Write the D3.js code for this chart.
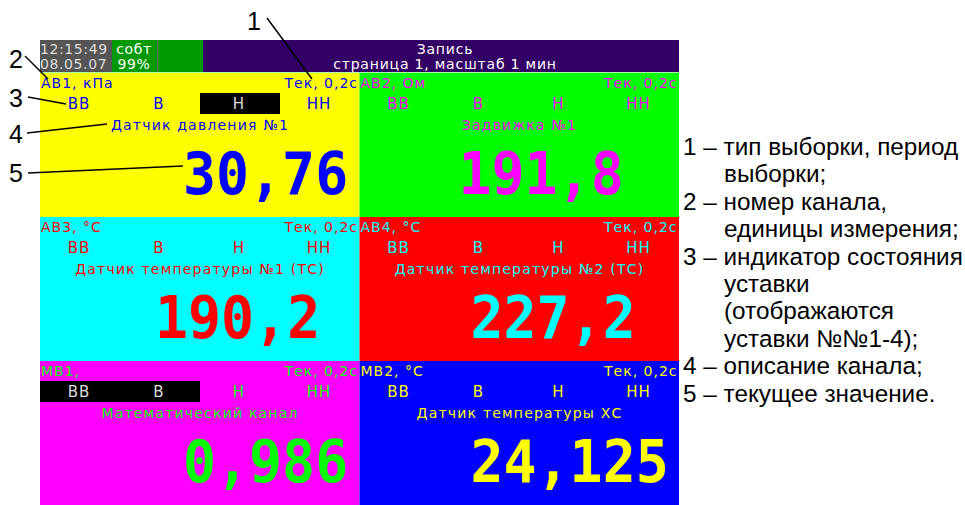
<!DOCTYPE html>
<html>
<head>
<meta charset="utf-8">
<script src="https://cdn.jsdelivr.net/npm/d3@7"></script>
<style>
  body { margin: 0; background: #fff; }
  svg { display: block; }
</style>
</head>
<body>
<div id="chart"></div>
<script>
// Channel data
const channels = ["АВ1, кПа", "АВ2, Ом", "АВ3, °C", "АВ4, °C", "МВ1,", "МВ2, °C"];
const sampling = ["Тек, 0,2с", "Тек, 0,2с", "Тек, 0,2с", "Тек, 0,2с", "Тек, 0,2с", "Тек, 0,2с"];
const descriptions = ["Датчик давления №1", "Задвижка №1", "Датчик температуры №1 (ТС)",
  "Датчик температуры №2 (ТС)", "Математический канал", "Датчик температуры ХС"];
const values = ["30,76", "191,8", "190,2", "227,2", "0,986", "24,125"];
const setpoints = ["ВВ", "В", "Н", "НН"];
const activeSetpoints = [["Н"], [], [], [], ["ВВ", "В"], []];

// Header texts
const clockLines = ["12:15:49", "08.05.07"];
const statusLines = ["собт", "99%"];
const titleLines = ["Запись", "страница 1, масштаб 1 мин"];

// Legend
const legendLines = [
  { n: "1", lines: ["тип выборки, период", "выборки;"] },
  { n: "2", lines: ["номер канала,", "единицы измерения;"] },
  { n: "3", lines: ["индикатор состояния", "уставки", "(отображаются", "уставки №№1-4);"] },
  { n: "4", lines: ["описание канала;"] },
  { n: "5", lines: ["текущее значение."] }
];

// Styles
const panelFill = ["#ffff00", "#00ff00", "#00ffff", "#ff0000", "#ff00ff", "#0000ff"];
const panelInk = ["#0000ff", "#ff00ff", "#ff0000", "#00ffff", "#00ff00", "#ffff00"];
const valueLeft = [143, 99, 115, 111, 143, 111];

const width = 965;
const height = 505;

const svg = d3.select("#chart")
  .append("svg")
  .attr("width", width)
  .attr("height", height);

// Grid of panels
const col = d3.scaleBand().domain([0, 1]).range([40, 679]);
const row = d3.scaleBand().domain([0, 1, 2]).range([73, 505]);
const slot = d3.scaleBand().domain(setpoints).range([0, 320]);

const smallFont = "DejaVu Sans, sans-serif";
const bigFont = "DejaVu Sans Mono, monospace";

// Header bar
const header = svg.append("g");
header.append("rect").attr("x", 40).attr("y", 40).attr("width", 72).attr("height", 32).attr("fill", "#555555");
header.append("rect").attr("x", 112).attr("y", 40).attr("width", 45).attr("height", 32).attr("fill", "#009900");
header.append("rect").attr("x", 157).attr("y", 40).attr("width", 1).attr("height", 32).attr("fill", "#666666");
header.append("rect").attr("x", 158).attr("y", 40).attr("width", 45).attr("height", 32).attr("fill", "#009900");
header.append("rect").attr("x", 203).attr("y", 40).attr("width", 476).attr("height", 32).attr("fill", "#330066");
header.append("rect").attr("x", 40).attr("y", 72).attr("width", 639).attr("height", 1).attr("fill", "#aaffaa");

const headerText = (lines, x, anchor, fill, spacing) => {
  header.selectAll(null)
    .data(lines)
    .enter().append("text")
    .attr("x", x)
    .attr("y", (d, i) => 54 + i * 15)
    .attr("text-anchor", anchor)
    .attr("font-family", smallFont)
    .attr("font-size", 14)
    .attr("letter-spacing", spacing)
    .attr("fill", fill)
    .text(d => d);
};
headerText(clockLines, 40, "start", "#dddddd", 0.6);
headerText(statusLines, 134, "middle", "#ffffff", 0.6);
headerText(titleLines, 445, "middle", "#ffffff", 0.8);

// Panels
const panels = svg.selectAll(".panel")
  .data(channels.map((c, i) => i))
  .enter().append("g")
  .attr("class", "panel")
  .attr("transform", i => `translate(${col(i % 2)},${row(Math.floor(i / 2))})`);

panels.append("rect")
  .attr("width", col.bandwidth())
  .attr("height", row.bandwidth())
  .attr("fill", i => panelFill[i]);

panels.append("text")
  .attr("x", 1)
  .attr("y", 15)
  .attr("font-family", smallFont)
  .attr("font-size", 14)
  .attr("letter-spacing", 1)
  .attr("fill", i => panelInk[i])
  .text(i => channels[i]);

panels.append("text")
  .attr("x", 318)
  .attr("y", 15)
  .attr("text-anchor", "end")
  .attr("font-family", smallFont)
  .attr("font-size", 14)
  .attr("letter-spacing", 1)
  .attr("fill", i => panelInk[i])
  .text(i => sampling[i]);

// Setpoint indicators
panels.each(function (i) {
  const g = d3.select(this);
  g.selectAll(".sp-box")
    .data(activeSetpoints[i])
    .enter().append("rect")
    .attr("class", "sp-box")
    .attr("x", d => slot(d))
    .attr("y", 20)
    .attr("width", slot.bandwidth())
    .attr("height", 21)
    .attr("fill", "#000");
  g.selectAll(".sp")
    .data(setpoints)
    .enter().append("text")
    .attr("class", "sp")
    .attr("x", d => slot(d) + slot.bandwidth() / 2 - 1)
    .attr("y", 36)
    .attr("text-anchor", "middle")
    .attr("font-family", smallFont)
    .attr("font-size", 15)
    .attr("letter-spacing", 1)
    .attr("fill", d => activeSetpoints[i].includes(d) ? "#dddddd" : panelInk[i])
    .text(d => d);
});

panels.append("text")
  .attr("x", 160)
  .attr("y", 57)
  .attr("text-anchor", "middle")
  .attr("font-family", smallFont)
  .attr("font-size", 14)
  .attr("letter-spacing", 1.2)
  .attr("fill", i => panelInk[i])
  .text(i => descriptions[i]);

panels.append("text")
  .attr("transform", i => `translate(${valueLeft[i]},121) scale(0.93,1)`)
  .attr("font-family", bigFont)
  .attr("font-weight", "bold")
  .attr("font-size", 59)
  .attr("fill", i => panelInk[i])
  .text(i => values[i]);

// Callouts
const callouts = [
  { n: "1", tx: 247, ty: 30, x1: 267, y1: 18, x2: 312, y2: 79 },
  { n: "2", tx: 9, ty: 68, x1: 25, y1: 56, x2: 48, y2: 79 },
  { n: "3", tx: 9, ty: 107, x1: 28, y1: 97, x2: 66, y2: 104 },
  { n: "4", tx: 9, ty: 143, x1: 27, y1: 133, x2: 107, y2: 124 },
  { n: "5", tx: 9, ty: 182, x1: 28, y1: 173, x2: 183, y2: 166 }
];
const co = svg.append("g");
co.selectAll("line")
  .data(callouts)
  .enter().append("line")
  .attr("x1", d => d.x1).attr("y1", d => d.y1)
  .attr("x2", d => d.x2).attr("y2", d => d.y2)
  .attr("stroke", "#000")
  .attr("stroke-width", 1.5);
co.selectAll("text")
  .data(callouts)
  .enter().append("text")
  .attr("x", d => d.tx)
  .attr("y", d => d.ty)
  .attr("font-family", "Liberation Sans, Arial, sans-serif")
  .attr("font-size", 25)
  .attr("fill", "#000")
  .text(d => d.n);

// Legend on the right
const legend = svg.append("g").attr("font-family", "Liberation Sans, Arial, sans-serif")
  .attr("font-size", 24.3).attr("fill", "#000");
let line = 0;
legendLines.forEach(item => {
  item.lines.forEach((t, j) => {
    legend.append("text")
      .attr("x", j === 0 ? 683 : 724)
      .attr("y", 155 + line * 27.4)
      .text(j === 0 ? `${item.n} – ${t}` : t);
    line++;
  });
});
</script>
</body>
</html>
